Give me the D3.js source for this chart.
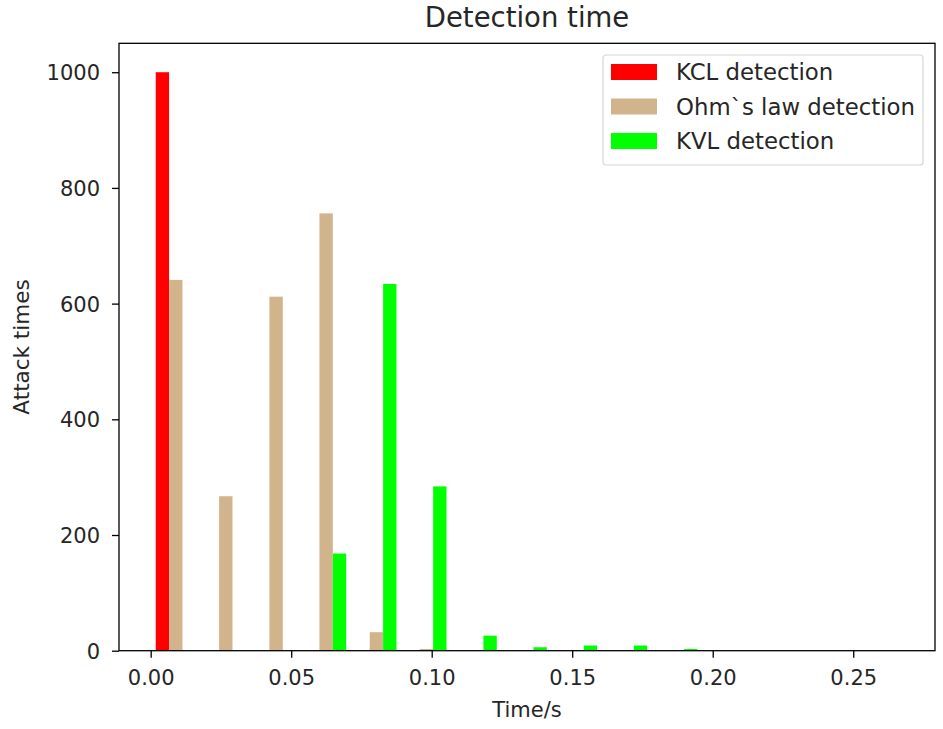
<!DOCTYPE html>
<html>
<head>
<meta charset="utf-8">
<script src="https://cdn.jsdelivr.net/npm/d3@7/dist/d3.min.js"></script>
<style>
  html, body { margin: 0; padding: 0; background: #fff; }
  svg { display: block; font-family: "DejaVu Sans", sans-serif; }
</style>
</head>
<body>
<svg id="chart" width="943" height="729"></svg>
<script>
// Histogram bins: left edge of each time bin (seconds) and the bin width
const binStarts = [0.0000, 0.0178, 0.0357, 0.0535, 0.0714, 0.0892, 0.1071, 0.1249,
                   0.1428, 0.1606, 0.1785, 0.1963, 0.2142, 0.2320, 0.2499];
const binWidth = 0.01785;

// Attack counts per bin for each detection method
const seriesNames = ["KCL detection", "Ohm`s law detection", "KVL detection"];
const kclCounts = [1000, 0, 0, 0, 0, 0, 0, 0, 0, 0, 0, 0, 0, 0, 0];
const ohmCounts = [641, 267, 612, 756, 32, 3, 0, 0, 0, 0, 0, 0, 0, 0, 0];
const kvlCounts = [0, 0, 0, 168, 634, 284, 26, 6, 9, 9, 3, 0, 0, 0, 0];
const seriesColors = ["#ff0000", "#d2b48c", "#00ff00"];

const xTicks = [0.00, 0.05, 0.10, 0.15, 0.20, 0.25];
const yTicks = [0, 200, 400, 600, 800, 1000];

const svg = d3.select("#chart");
const plot = { left: 119, right: 935, top: 43.3, bottom: 650.7 };
const textColor = "#262626";
const labelSize = "21px";

const x = d3.scaleLinear().domain([-0.01128, 0.2791]).range([plot.left, plot.right]);
const y = d3.scaleLinear().domain([0, 1050]).range([plot.bottom, plot.top]);

// Grouped histogram bars: three bars share 80% of each bin
const series = [kclCounts, ohmCounts, kvlCounts];
const barW = binWidth * 0.8 / 3;
series.forEach((counts, si) => {
  const x0 = b => b + binWidth * 0.1 + si * barW;
  svg.append("g")
    .selectAll("rect")
    .data(binStarts.map((b, i) => ({ b, v: counts[i] })).filter(d => d.v > 0))
    .join("rect")
    .attr("x", d => x(x0(d.b)))
    .attr("width", d => x(x0(d.b) + barW) - x(x0(d.b)))
    .attr("y", d => y(d.v))
    .attr("height", d => y(0) - y(d.v))
    .attr("fill", seriesColors[si]);
});

// Axes
const xAxis = d3.axisBottom(x).tickValues(xTicks).tickFormat(d3.format(".2f"))
  .tickSizeOuter(0).tickSize(7).tickPadding(12);
const yAxis = d3.axisLeft(y).tickValues(yTicks).tickFormat(d3.format("d"))
  .tickSizeOuter(0).tickSize(7).tickPadding(12);

const gx = svg.append("g").attr("transform", `translate(0,${plot.bottom})`).call(xAxis);
const gy = svg.append("g").attr("transform", `translate(${plot.left},0)`).call(yAxis);
[gx, gy].forEach(g => {
  g.select(".domain").remove();
  g.selectAll(".tick line").attr("stroke", "#000").attr("stroke-width", 1.3);
  g.selectAll(".tick text").attr("fill", textColor).style("font-size", labelSize)
    .style("font-family", "'DejaVu Sans', sans-serif");
});
gx.selectAll(".tick text").attr("dy", "0.72em");
gy.selectAll(".tick text").attr("dy", "0.36em");

// Frame
svg.append("rect")
  .attr("x", plot.left).attr("y", plot.top)
  .attr("width", plot.right - plot.left).attr("height", plot.bottom - plot.top)
  .attr("fill", "none").attr("stroke", "#000").attr("stroke-width", 1.3);

// Title and axis labels
svg.append("text").attr("x", (plot.left + plot.right) / 2).attr("y", 27)
  .attr("text-anchor", "middle").style("font-size", "27.5px").attr("fill", textColor)
  .text("Detection time");
svg.append("text").attr("x", (plot.left + plot.right) / 2).attr("y", 717)
  .attr("text-anchor", "middle").style("font-size", labelSize).attr("fill", textColor)
  .text("Time/s");
svg.append("text")
  .attr("transform", `translate(29,${(plot.top + plot.bottom) / 2}) rotate(-90)`)
  .attr("text-anchor", "middle").style("font-size", "21.5px").attr("fill", textColor)
  .text("Attack times");

// Legend
const legend = svg.append("g").attr("transform", "translate(603,55)");
legend.append("rect").attr("width", 320).attr("height", 110).attr("rx", 3)
  .attr("fill", "#fff").attr("fill-opacity", 0.8).attr("stroke", "#d6d6d6").attr("stroke-width", 1.2);
seriesNames.forEach((name, i) => {
  const row = legend.append("g").attr("transform", `translate(0,${17 + i * 34.5})`);
  row.append("rect").attr("x", 8).attr("y", -8).attr("width", 46).attr("height", 16)
    .attr("fill", seriesColors[i]);
  row.append("text").attr("x", 73).attr("y", 0).attr("dy", "0.36em")
    .style("font-size", "22.8px").attr("fill", textColor).text(name);
});
</script>
</body>
</html>
